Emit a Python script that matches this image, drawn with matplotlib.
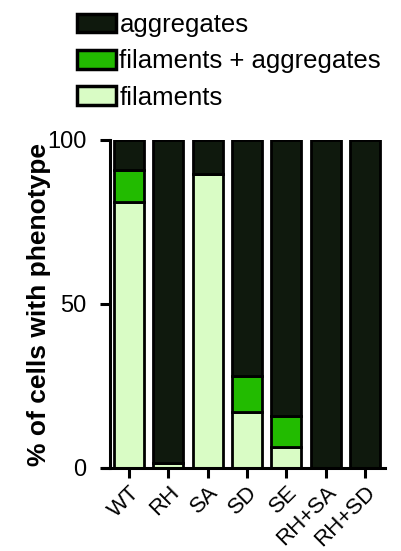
import matplotlib
matplotlib.use("Agg")
import matplotlib.pyplot as plt
from matplotlib.patches import Patch
import numpy as np

plt.rcParams['font.family'] = ['Liberation Sans', 'DejaVu Sans']

# data (% of cells)
strains = ["WT", "RH", "SA", "SD", "SE", "RH+SA", "RH+SD"]
filaments = [81, 1.5, 89.5, 17, 6.5, 0, 0]
fil_agg = [10, 0, 0, 11, 9.5, 0, 0]
aggregates = [9, 98.5, 10.5, 72, 84, 100, 100]

c_agg = "#0f190d"
c_mix = "#22bb00"
c_fil = "#d9fcc5"

fig = plt.figure(figsize=(4.01, 5.51), dpi=100)
ax = fig.add_axes([103/401, 83/551, (385-103)/401, (468-140)/551])

x = np.arange(len(strains))
w = 0.76
fil = np.array(filaments)
mix = np.array(fil_agg)
agg = np.array(aggregates)
ax.bar(x, fil, w, color=c_fil, edgecolor="black", linewidth=2)
ax.bar(x, mix, w, bottom=fil, color=c_mix, edgecolor="black", linewidth=2)
ax.bar(x, agg, w, bottom=fil + mix, color=c_agg, edgecolor="black", linewidth=2)

ax.set_xlim(-0.66, 6.51)
ax.set_ylim(0, 100)
ax.spines['top'].set_visible(False)
ax.spines['right'].set_visible(False)
ax.spines['left'].set_position(('data', -0.48))
ax.spines['left'].set_linewidth(2.2)
ax.spines['bottom'].set_linewidth(2.2)
ax.set_yticks([0, 50, 100])
ax.set_xticks(x)
ax.set_xticklabels(strains, rotation=45, ha="right", rotation_mode="anchor")
ax.tick_params(axis='both', width=2.2, length=7, direction='out')
ax.tick_params(axis='y', pad=10, labelsize=17)
ax.tick_params(axis='x', pad=3, labelsize=16)
ax.set_ylabel("% of cells with phenotype", fontsize=19, fontweight="bold")
ax.yaxis.set_label_coords(-0.185, 0.5)

handles = [Patch(facecolor=c_agg, edgecolor="black", linewidth=2.5, label="aggregates"),
           Patch(facecolor=c_mix, edgecolor="black", linewidth=2.5, label="filaments + aggregates"),
           Patch(facecolor=c_fil, edgecolor="black", linewidth=2.5, label="filaments")]
fig.legend(handles=handles, loc="upper left", bbox_to_anchor=(77/401, 1 - 13/551),
           frameon=False, fontsize=18.5, handlelength=1.5, handleheight=0.75,
           handletextpad=0.15, labelspacing=0.48, borderaxespad=0, borderpad=0)

fig.savefig("out.png", dpi=100)
